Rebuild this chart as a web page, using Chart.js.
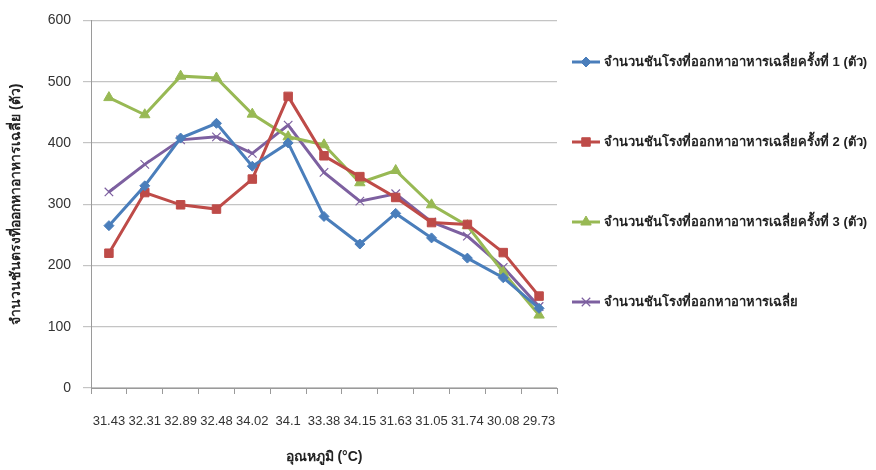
<!DOCTYPE html>
<html>
<head>
<meta charset="utf-8">
<script src="https://cdn.jsdelivr.net/npm/chart.js@4/dist/chart.umd.min.js"></script>
<style>
  html, body { margin: 0; padding: 0; background: #fff; }
  #wrap { width: 876px; height: 470px; position: relative; }
</style>
</head>
<body>
<div id="wrap"><canvas id="c" width="876" height="470"></canvas></div>
<script>
// Temperature at each observation (°C)
const temperatures = ['31.43', '32.31', '32.89', '32.48', '34.02', '34.1', '33.38', '34.15', '31.63', '31.05', '31.74', '30.08', '29.73'];

// Average number of stingless bees leaving to forage, per round
const round1 = [265, 330, 408, 432, 362, 400, 280, 235, 285, 245, 212, 180, 130];
const round2 = [220, 319, 299, 292, 341, 476, 379, 345, 311, 270, 267, 221, 150];
const round3 = [474, 446, 509, 506, 447, 410, 397, 335, 355, 299, 265, 189, 119];
const overall = [320, 365, 405, 410, 383, 429, 352, 305, 317, 271, 248, 197, 133];

const seriesNames = [
  'จำนวนชันโรงที่ออกหาอาหารเฉลี่ยครั้งที่ 1 (ตัว)',
  'จำนวนชันโรงที่ออกหาอาหารเฉลี่ยครั้งที่ 2 (ตัว)',
  'จำนวนชันโรงที่ออกหาอาหารเฉลี่ยครั้งที่ 3 (ตัว)',
  'จำนวนชันโรงที่ออกหาอาหารเฉลี่ย'
];
const xTitle = 'อุณหภูมิ (°C)';
const yTitle = 'จำนวนชันตรงที่ออกหาอาหารเฉลี่ย (ตัว)';

const FONT = "'Liberation Sans', Arial, sans-serif";

function ds(label, data, color, style, radius) {
  return {
    label, data,
    borderColor: color, backgroundColor: color,
    borderWidth: 3, pointStyle: style, pointRadius: radius,
    pointBorderWidth: style === 'crossRot' ? 1.2 : 1,
    pointBorderColor: color, pointBackgroundColor: color,
    tension: 0
  };
}

// Legend drawn as a vertical list with wide spacing on the right
const sideLegend = {
  id: 'sideLegend',
  afterDraw(chart) {
    const ctx = chart.ctx;
    const ys = [62, 142, 222, 302];
    ctx.save();
    chart.data.datasets.forEach((d, i) => {
      const y = ys[i];
      ctx.strokeStyle = d.borderColor;
      ctx.fillStyle = d.backgroundColor;
      ctx.lineWidth = 3;
      ctx.beginPath();
      ctx.moveTo(572, y);
      ctx.lineTo(600, y);
      ctx.stroke();
      ctx.lineWidth = d.pointBorderWidth;
      Chart.helpers.drawPoint(ctx, {
        pointStyle: d.pointStyle,
        radius: d.pointRadius,
        borderWidth: d.pointBorderWidth,
        rotation: 0
      }, 586, y);
      ctx.fillStyle = '#222';
      ctx.font = 'bold 13px ' + FONT;
      ctx.textBaseline = 'middle';
      ctx.textAlign = 'left';
      ctx.fillText(d.label, 604, y);
    });
    ctx.restore();
  }
};

Chart.defaults.font.family = FONT;
Chart.defaults.color = '#333';

new Chart(document.getElementById('c'), {
  type: 'line',
  data: {
    labels: temperatures,
    datasets: [
      ds(seriesNames[0], round1, '#4A7EBB', 'rectRot', 5),
      ds(seriesNames[1], round2, '#BE4B48', 'rect', 6),
      ds(seriesNames[2], round3, '#98B954', 'triangle', 6),
      ds(seriesNames[3], overall, '#7D60A0', 'crossRot', 6)
    ]
  },
  options: {
    responsive: false,
    animation: false,
    layout: { padding: { left: 4, top: 19, right: 319, bottom: 0 } },
    plugins: { legend: { display: false }, tooltip: { enabled: false } },
    scales: {
      x: {
        offset: true,
        grid: { offset: true, drawOnChartArea: false, drawTicks: true, tickLength: 6, color: '#9a9a9a' },
        border: { color: '#9a9a9a', width: 1 },
        ticks: { font: { size: 13 }, color: '#333', padding: 20, maxRotation: 0, autoSkip: false },
        title: { display: true, text: xTitle, font: { size: 14, weight: 'bold' }, color: '#222', padding: { top: 13 } },
        afterFit(s) { s.height = 82; }
      },
      y: {
        min: 0, max: 600,
        ticks: { stepSize: 100, font: { size: 14 }, color: '#333', padding: 12 },
        grid: { color: '#c4c4c4', tickLength: 8, lineWidth: 1.2 },
        border: { color: '#9a9a9a', width: 1 },
        title: { display: true, text: yTitle, font: { size: 14, weight: 'bold' }, color: '#222', padding: { bottom: 4 } },
        afterFit(s) { s.width = 87; }
      }
    }
  },
  plugins: [sideLegend]
});
</script>
</body>
</html>
